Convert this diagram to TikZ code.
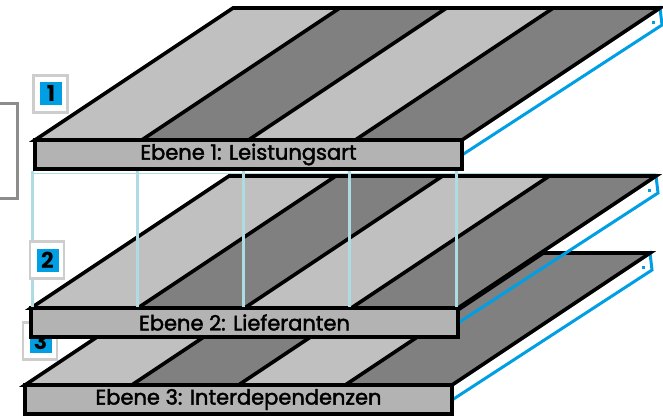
\documentclass[tikz,border=0pt]{standalone}
\usepackage{fontspec}
\setmainfont{Poppins}
\newfontfamily\schrift{Poppins}[FakeBold=2]
\usepackage{tikz}

\definecolor{hellgrau}{HTML}{C0C0C0}
\definecolor{dunkelgrau}{HTML}{808080}
\definecolor{kastengrau}{HTML}{B3B3B3}
\definecolor{blau}{HTML}{009FE3}
\definecolor{tuerkis}{HTML}{ADDDE2}
\definecolor{rahmengrau}{HTML}{CDCDCD}
\definecolor{klammergrau}{HTML}{8C8C8C}

\tikzset{
  kante/.style={black, line width=3.6},
  seite/.style={blau, line width=3},
  kasten/.style={draw=black, line width=4, fill=kastengrau, inner sep=0,
    minimum width=427, minimum height=29, font=\fontsize{21}{21}\schrift},
  kamm/.style={tuerkis, line width=3},
  rahmen/.style={draw=rahmengrau, line width=2.2, fill=white,
    minimum width=34, minimum height=37, inner sep=0},
  nummer/.style={fill=blau, minimum width=22, minimum height=23, inner sep=0,
    font=\fontsize{22}{22}\selectfont\bfseries}
}

% #1,#2: linke untere Ecke der Flaeche, #3: Name, #4: Text
\newcommand{\ebene}[4]{
  \draw[seite] (#1+427,#2) -- (#1+625,#2-132) -- (#1+627,#2-115) -- (#1+427,#2+15);
  \fill[blau] (#1+617,#2-119) rectangle ++(3,3);
  \foreach \i/\farbe in {0/hellgrau,1/dunkelgrau,2/hellgrau,3/dunkelgrau}
    \fill[\farbe] (#1+\i*106.75,#2) -- ++(106.75,0) -- ++(198,-132) -- ++(-106.75,0) -- cycle;
  \foreach \i in {1,2,3}
    \draw[kante] (#1+\i*106.75,#2) -- ++(198,-132);
  \draw[kante] (#1,#2) -- ++(427,0) -- ++(198,-132) -- ++(-427,0) -- cycle;
  \node[kasten] (#3) at (#1+213.5,#2+14.5) {#4};
}

\begin{document}
\begin{tikzpicture}[x=1pt, y=-1pt]
  \useasboundingbox (0,0) rectangle (663,418);

  % Ebene 3
  \ebene{25}{385}{ebene3}{Ebene 3: Interdependenzen}
  \node[rahmen] (rahmen3) at (40,341) {};
  \node[nummer] (nr3) at (40.5,341.5) {3};

  % Ebene 2
  \draw[tuerkis, line width=1.5] (32,173.5) -- (656,173.5);
  \ebene{31}{308}{ebene2}{Ebene 2: Lieferanten}
  \foreach \x in {32,137,243,349,456}
    \draw[kamm] (\x,171) -- (\x,306.5);
  \node[rahmen] (rahmen2) at (47,260) {};
  \node[nummer] (nr2) at (47.5,260) {2};

  % Ebene 1
  \ebene{35}{140}{ebene1}{Ebene 1: Leistungsart}
  \node[rahmen] (rahmen1) at (50.5,94) {};
  \node[nummer] (nr1) at (51,93.5) {1};

  \draw[klammergrau, line width=3] (-5,103) -- (17,103) -- (17,198) -- (-5,198);
\end{tikzpicture}
\end{document}
